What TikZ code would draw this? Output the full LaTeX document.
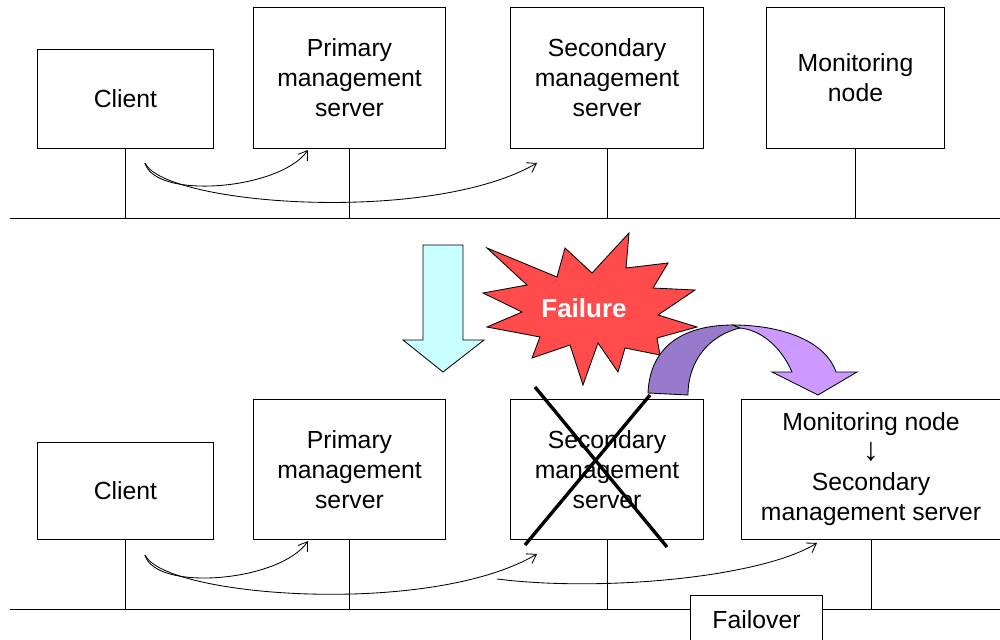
\documentclass[tikz,border=0pt]{standalone}
\usepackage{fontspec}
\setmainfont{Liberation Sans}
\usetikzlibrary{arrows.meta}
\definecolor{failred}{RGB}{255,75,75}
\definecolor{downcyan}{RGB}{200,255,255}
\definecolor{darkpurple}{RGB}{152,122,204}
\definecolor{lightpurple}{RGB}{204,153,255}
\begin{document}
\begin{tikzpicture}[x=0.025cm,y=-0.025cm,>={Straight Barb[length=6pt,width=8pt]},
  box/.style={draw,line width=0.7pt,fill=white,align=center,inner sep=0pt,font=\fontsize{17.6}{21.3}\selectfont},
  bus/.style={line width=0.7pt},
  flow/.style={->,line width=0.6pt}]
\useasboundingbox (0,0) rectangle (1000,639);
% vor dem Ausfall
\coordinate (bus1) at (10,218);
\coordinate (bus1e) at (1000,218);
\draw[bus] (bus1) -- (bus1e);
\node[box,minimum width=4.4cm,minimum height=2.45cm] (cl1) at (125.5,99) {Client};
\node[box,minimum width=4.775cm,minimum height=3.5cm] (pr1) at (349.5,78) {Primary\\management\\server};
\node[box,minimum width=4.8cm,minimum height=3.5cm] (se1) at (607,78) {Secondary\\management\\server};
\node[box,minimum width=4.425cm,minimum height=3.5cm] (mo1) at (855.5,78) {Monitoring\\node};
\foreach \n in {cl1,pr1,se1,mo1}
  \draw[bus] (\n.south) -- (\n.south |- bus1);
\coordinate (req1) at (145,163);
\coordinate (pr1in) at (308,150);
\coordinate (se1in) at (537,163);
\draw[flow] (req1) .. controls (155,200) and (280,190) .. (pr1in);
\draw[flow] (req1) .. controls (165,205) and (430,225) .. (se1in);
% nach dem Ausfall
\coordinate (bus2) at (10,609);
\coordinate (bus2e) at (1000,609);
\draw[bus] (bus2) -- (bus2e);
\node[box,minimum width=4.4cm,minimum height=2.425cm] (cl2) at (125.5,490.5) {Client};
\node[box,minimum width=4.775cm,minimum height=3.475cm] (pr2) at (349.5,469.5) {Primary\\management\\server};
\node[box,minimum width=4.8cm,minimum height=3.475cm] (se2) at (607,469.5) {Secondary\\management\\server};
\node[box,minimum width=6.45cm,minimum height=3.475cm] (mo2) at (871,469.5) {Monitoring node\\{\fontsize{23}{21.3}\selectfont ↓}\\Secondary\\management server};
\foreach \n in {cl2,pr2,se2,mo2}
  \draw[bus] (\n.south) -- (\n.south |- bus2);
\node[box,minimum width=3.275cm,minimum height=1.25cm] (fo) at (756.5,620) {Failover};
\coordinate (req2) at (145,555);
\coordinate (pr2in) at (308,541);
\coordinate (se2in) at (537,554);
\coordinate (fork) at (497,579);
\coordinate (mo2in) at (817,543);
\draw[flow] (req2) .. controls (155,592) and (280,582) .. (pr2in);
\draw[flow] (req2) .. controls (165,597) and (430,617) .. (se2in);
\draw[flow] (fork) .. controls (600,592) and (760,578) .. (mo2in);
% Kreuz
\draw[line width=2.4pt] (535,387) -- (667,547);
\draw[line width=2.4pt] (650,395) -- (525,545);
% Stern
\draw[fill=failred,line width=0.6pt] (629,233) -- (626,268) -- (668,263) -- (653,288) -- (695,290)
  -- (658,315) -- (697,327) -- (657,338) -- (660,355) -- (625,348) -- (618,372) -- (598,343)
  -- (583,385) -- (570,345) -- (532,358) -- (540,337) -- (487,327) -- (522,312) -- (483,293)
  -- (527,285) -- (487,248) -- (557,277) -- (565,248) -- (592,273) -- cycle;
\node[text=white,font=\fontsize{18.5}{22}\bfseries] (fail) at (584,308) {Failure};
% Pfeile
\draw[fill=downcyan,line width=0.6pt] (423,245) -- (463,245) -- (463,340) -- (484,340) -- (443,372)
  -- (403,340) -- (423,340) -- cycle;
\draw[fill=darkpurple,line width=0.6pt] (648,393) .. controls (650,345) and (685,325) .. (733,325)
  -- (740,328) .. controls (710,335) and (688,360) .. (688,395) -- cycle;
\draw[fill=lightpurple,line width=0.6pt] (733,325) .. controls (780,325) and (825,340) .. (836,372)
  -- (857,372) -- (818,395) -- (772,372) -- (792,372) .. controls (780,345) and (760,330) .. (740,328) -- cycle;
\end{tikzpicture}
\end{document}
